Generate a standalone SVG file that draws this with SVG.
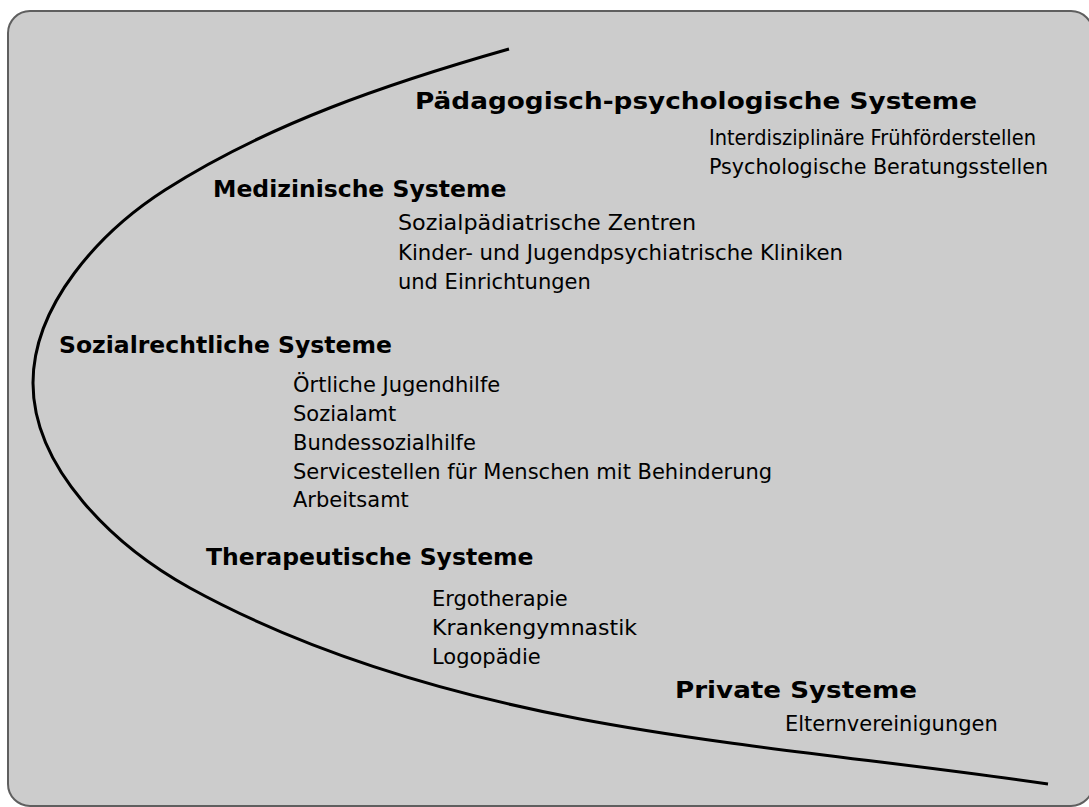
<svg xmlns="http://www.w3.org/2000/svg" width="1089" height="807" viewBox="0 0 1089 807">
  <style>
    .frame { fill: #cccccc; stroke: #5f5f5f; stroke-width: 2; }
    .curve { fill: none; stroke: #000000; stroke-width: 3; stroke-linecap: butt; }
    .head { font-family: "DejaVu Sans", Verdana, sans-serif; font-weight: bold; font-size: 23.5px; fill: #000000; }
    .item { font-family: "DejaVu Sans", Verdana, sans-serif; font-size: 21px; fill: #000000; }
  </style>
  <rect x="0" y="0" width="1089" height="807" fill="#ffffff"/>
  <rect class="frame" x="8" y="11" width="1085" height="795" rx="22" ry="22"/>
  <g id="connectors">
    <path class="curve" d="M509,49 C389.5,83 268,124 165,190 C99.5,232 33,305 33,383 C33,469 115,546.5 190,588 C310,654 445.5,693.4 580,719 C734,748 892,761 1048,784"/>
  </g>
  <g id="paedagogisch">
    <text class="head" x="415" y="109" textLength="562" lengthAdjust="spacingAndGlyphs">Pädagogisch-psychologische Systeme</text>
    <text class="item" x="709" y="145" textLength="327" lengthAdjust="spacingAndGlyphs">Interdisziplinäre Frühförderstellen</text>
    <text class="item" x="709" y="174" textLength="339" lengthAdjust="spacingAndGlyphs">Psychologische Beratungsstellen</text>
  </g>
  <g id="medizinisch">
    <text class="head" x="213" y="197">Medizinische Systeme</text>
    <text class="item" x="398" y="230" textLength="298" lengthAdjust="spacingAndGlyphs">Sozialpädiatrische Zentren</text>
    <text class="item" x="398" y="260" textLength="445" lengthAdjust="spacingAndGlyphs">Kinder- und Jugendpsychiatrische Kliniken</text>
    <text class="item" x="398" y="289">und Einrichtungen</text>
  </g>
  <g id="sozialrechtlich">
    <text class="head" x="59" y="353">Sozialrechtliche Systeme</text>
    <text class="item" x="293" y="392">Örtliche Jugendhilfe</text>
    <text class="item" x="293" y="421">Sozialamt</text>
    <text class="item" x="293" y="450">Bundessozialhilfe</text>
    <text class="item" x="293" y="479">Servicestellen für Menschen mit Behinderung</text>
    <text class="item" x="293" y="507">Arbeitsamt</text>
  </g>
  <g id="therapeutisch">
    <text class="head" x="206" y="565">Therapeutische Systeme</text>
    <text class="item" x="432" y="606">Ergotherapie</text>
    <text class="item" x="432" y="635" textLength="205" lengthAdjust="spacingAndGlyphs">Krankengymnastik</text>
    <text class="item" x="432" y="664">Logopädie</text>
  </g>
  <g id="privat">
    <text class="head" x="675" y="698" textLength="242" lengthAdjust="spacingAndGlyphs">Private Systeme</text>
    <text class="item" x="785" y="731">Elternvereinigungen</text>
  </g>
</svg>
